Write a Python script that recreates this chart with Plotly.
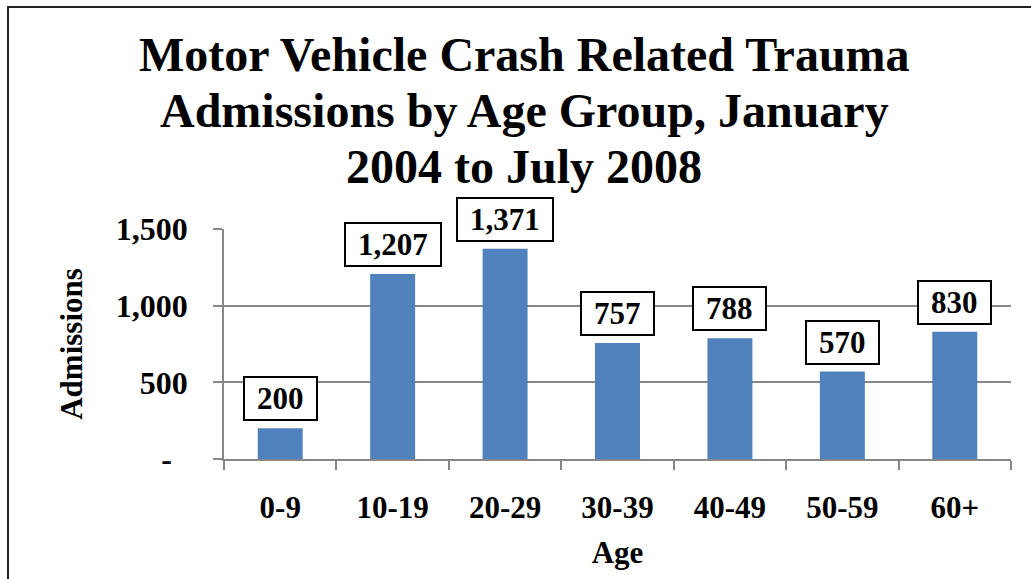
import plotly.graph_objects as go

categories = ["0-9", "10-19", "20-29", "30-39", "40-49", "50-59", "60+"]
admissions = [200, 1207, 1371, 757, 788, 570, 830]
ytick_vals = [0, 500, 1000, 1500]
ytick_text = ["-\u00a0\u00a0", "500", "1,000", "1,500"]
title_lines = ["Motor Vehicle Crash Related Trauma",
               "Admissions by Age Group, January",
               "2004 to July 2008"]

FONT = "Liberation Serif, Times New Roman, serif"
BAR = "#4F81BD"
GRID = "#878787"

W, H = 1031, 579
ML, MR, MT, MB = 224, 20, 229, 120
pw = W - ML - MR
ph = H - MT - MB


def px_x(p):
    return (p - ML) / pw


def px_y(p):
    return (MT + ph - p) / ph


fig = go.Figure(go.Bar(
    x=categories, y=admissions,
    marker=dict(color=BAR, line=dict(width=0)),
    hoverinfo="x+y",
))

for c, v in zip(categories, admissions):
    t = f"{v:,}"
    tw = 15.5 * sum(ch.isdigit() for ch in t) + 7.8 * t.count(",")
    fig.add_annotation(
        x=c, y=v, text=t, showarrow=False, xanchor="center", yanchor="bottom",
        yshift=7, font=dict(family=FONT, size=31, color="black", weight="bold"),
        bgcolor="white", bordercolor="black", borderwidth=2, borderpad=0,
        width=tw + 24, height=41,
    )

# title, one annotation per line for exact line spacing
for i, line in enumerate(title_lines):
    fig.add_annotation(
        xref="paper", yref="paper", x=px_x(524), y=px_y(55 + 55.5 * i),
        text=line, showarrow=False, xanchor="center", yanchor="middle",
        font=dict(family=FONT, size=48, color="black", weight="bold"),
    )

# outer chart border
fig.add_shape(type="rect", xref="paper", yref="paper",
              x0=px_x(8), x1=px_x(W + 20), y0=px_y(H + 20), y1=px_y(7),
              line=dict(color="#222222", width=2), fillcolor="rgba(0,0,0,0)", layer="below")

fig.update_layout(
    width=W, height=H,
    margin=dict(l=ML, r=MR, t=MT, b=MB, autoexpand=False),
    paper_bgcolor="white", plot_bgcolor="white",
    bargap=0.6,
    showlegend=False,
    font=dict(family=FONT, color="black", size=31, weight="bold"),
    xaxis=dict(
        type="category", showgrid=False, showline=True, linecolor=GRID, linewidth=1.5,
        ticks="outside", tickson="boundaries", ticklen=9, tickcolor=GRID, tickwidth=1.5,
        tickfont=dict(family=FONT, size=31, color="black", weight="bold"),
        ticklabelstandoff=20,
        title=dict(text="Age", standoff=17,
                   font=dict(family=FONT, size=31, color="black", weight="bold")),
        automargin=False,
    ),
    yaxis=dict(
        range=[0, 1500], tickvals=ytick_vals, ticktext=ytick_text,
        showgrid=True, gridcolor=GRID, gridwidth=1.5, zeroline=False,
        showline=True, linecolor=GRID, linewidth=1.5,
        ticks="outside", ticklen=9, tickcolor=GRID, tickwidth=1.5,
        tickfont=dict(family=FONT, size=32, color="black", weight="bold"),
        ticklabelstandoff=19,
        title=dict(text="Admissions", standoff=24,
                   font=dict(family=FONT, size=31, color="black", weight="bold")),
        automargin=False,
    ),
)

fig.write_html("out.html", config={"displayModeBar": False},
               post_script="document.body.style.margin='0';")
